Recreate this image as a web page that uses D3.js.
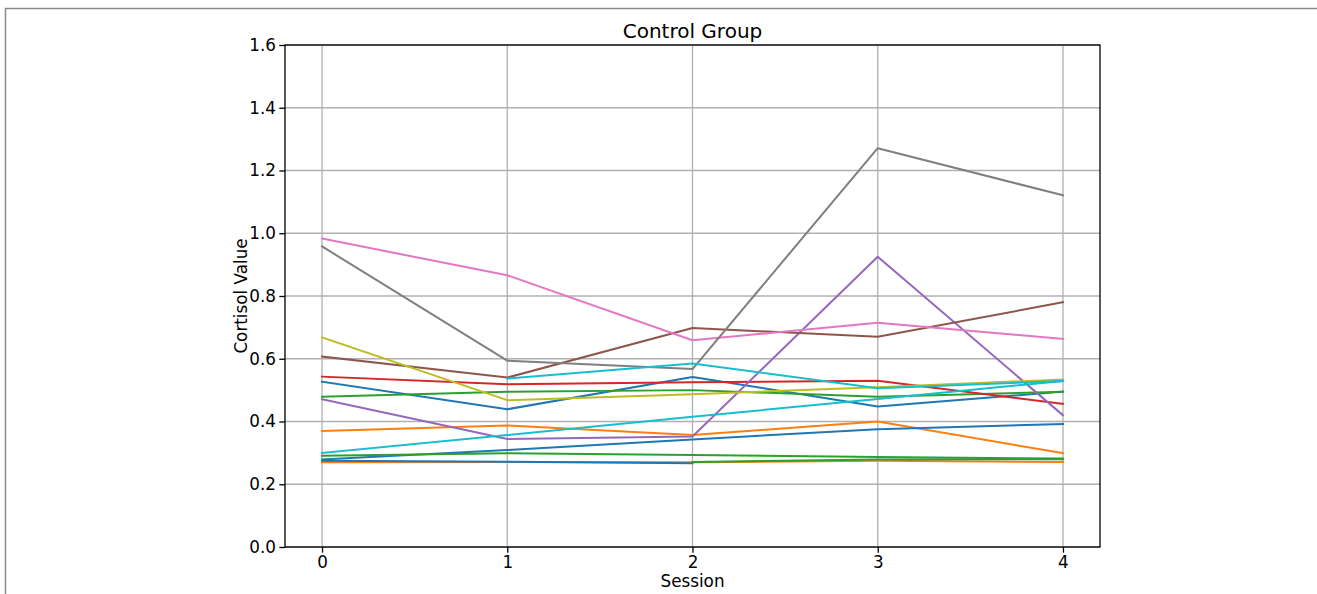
<!DOCTYPE html>
<html>
<head>
<meta charset="utf-8">
<script src="https://cdn.jsdelivr.net/npm/d3@7"></script>
<style>
  html, body { margin: 0; padding: 0; background: #fff; }
  svg { display: block; font-family: "DejaVu Sans", sans-serif; }
</style>
</head>
<body>
<svg id="chart" width="1317" height="594"></svg>
<script>
// ---- data ----
const sessions = [0, 1, 2, 3, 4];
const yTicks = [0.0, 0.2, 0.4, 0.6, 0.8, 1.0, 1.2, 1.4, 1.6];
const chartTitle = "Control Group";
const xLabel = "Session";
const yLabel = "Cortisol Value";

const s01 = [0.527, 0.439, 0.542, 0.448, 0.495];
const s02 = [0.370, 0.387, 0.357, 0.400, 0.299];
const s03 = [0.479, 0.495, 0.500, 0.479, 0.495];
const s04 = [0.543, 0.519, 0.525, 0.530, 0.456];
const s05 = [0.471, 0.344, 0.352, 0.925, 0.420];
const s06 = [0.607, 0.540, 0.698, 0.670, 0.780];
const s07 = [0.983, 0.866, 0.659, 0.715, 0.663];
const s08 = [0.958, 0.594, 0.567, 1.271, 1.121];
const s09 = [0.668, 0.468, 0.487, 0.509, 0.534];
const s10 = [0.300, 0.357, 0.415, 0.472, 0.529];
const s11 = [0.279, 0.309, 0.343, 0.375, 0.392];
const s12 = [0.270, 0.271, 0.270, 0.275, 0.271];
const s13 = [0.291, 0.299, 0.293, 0.287, 0.282];
const s14 = [0.275, 0.272, 0.267, null, null];
const s15 = [null, null, 0.271, 0.279, 0.280];
const s16 = [null, 0.537, 0.585, 0.506, 0.529];

const seriesList = [s01, s02, s03, s04, s05, s06, s07, s08, s09, s10, s11, s12, s13, s14, s15, s16];
const seriesPaletteIndex = [0, 1, 2, 3, 4, 5, 6, 7, 8, 9, 0, 1, 2, 0, 2, 9];

// ---- drawing ----
(function () {
const svg = d3.select("#chart");
const mLeft = 285, mRight = 1100, mTop = 45, mBottom = 547;
const palette = d3.schemeCategory10;

// outer frame
svg.append("rect")
  .attr("x", 5.5).attr("y", 8.5)
  .attr("width", 1400).attr("height", 700)
  .attr("fill", "none").attr("stroke", "#8a8a8a").attr("stroke-width", 1.5);

const x = d3.scaleLinear().domain([-0.2, 4.2]).range([mLeft, mRight]);
const y = d3.scaleLinear().domain([0, 1.6]).range([mBottom, mTop]);

// grid
const grid = svg.append("g");
grid.selectAll("line.gx").data(sessions).join("line").attr("class", "gx")
  .attr("x1", d => x(d)).attr("x2", d => x(d))
  .attr("y1", mTop).attr("y2", mBottom)
  .attr("stroke", "#b0b0b0").attr("stroke-width", 1.3);
grid.selectAll("line.gy").data(yTicks).join("line").attr("class", "gy")
  .attr("y1", d => y(d)).attr("y2", d => y(d))
  .attr("x1", mLeft).attr("x2", mRight)
  .attr("stroke", "#b0b0b0").attr("stroke-width", 1.3);

// lines
const line = d3.line()
  .defined(d => d != null)
  .x((d, i) => x(sessions[i]))
  .y(d => y(d));

const plot = svg.append("g");
seriesList.forEach((s, k) => {
  plot.append("path")
    .attr("d", line(s))
    .attr("fill", "none")
    .attr("stroke", palette[seriesPaletteIndex[k]])
    .attr("stroke-width", 2)
    .attr("stroke-linejoin", "round")
    .attr("stroke-linecap", "square");
});

// spines
svg.append("rect")
  .attr("x", mLeft).attr("y", mTop)
  .attr("width", mRight - mLeft).attr("height", mBottom - mTop)
  .attr("fill", "none").attr("stroke", "#000").attr("stroke-width", 1.3);

// axes
const xAxis = d3.axisBottom(x).tickValues(sessions).tickFormat(d3.format("d"))
  .tickSizeInner(5.7).tickSizeOuter(0).tickPadding(3);
const yAxis = d3.axisLeft(y).tickValues(yTicks).tickFormat(d3.format(".1f"))
  .tickSizeInner(5.7).tickSizeOuter(0).tickPadding(3.3);

const gx = svg.append("g").attr("transform", `translate(0,${mBottom})`).call(xAxis);
const gy = svg.append("g").attr("transform", `translate(${mLeft},0)`).call(yAxis);
[gx, gy].forEach(g => {
  g.select(".domain").remove();
  g.selectAll(".tick line").attr("stroke", "#000").attr("stroke-width", 1.3);
  g.selectAll(".tick text").attr("fill", "#000")
    .style("font-family", "'DejaVu Sans', sans-serif").style("font-size", "16.8px");
});

// labels
svg.append("text")
  .attr("x", (mLeft + mRight) / 2).attr("y", 38)
  .attr("text-anchor", "middle")
  .style("font-size", "20px").attr("fill", "#000")
  .text(chartTitle);

svg.append("text")
  .attr("x", (mLeft + mRight) / 2).attr("y", 587)
  .attr("text-anchor", "middle")
  .style("font-size", "16.8px").attr("fill", "#000")
  .text(xLabel);

svg.append("text")
  .attr("transform", `translate(247,${(mTop + mBottom) / 2}) rotate(-90)`)
  .attr("text-anchor", "middle")
  .style("font-size", "16.8px").attr("fill", "#000")
  .text(yLabel);
})();
</script>
</body>
</html>
